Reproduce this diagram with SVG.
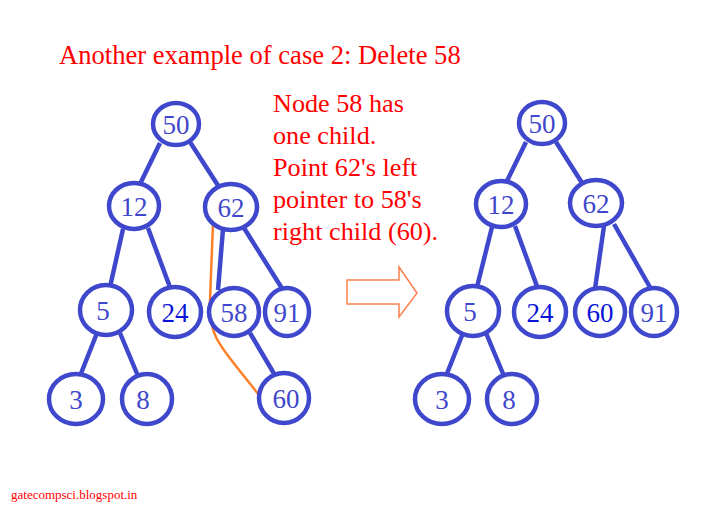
<svg xmlns="http://www.w3.org/2000/svg" width="723" height="521" viewBox="0 0 723 521">
<style>
.n ellipse{fill:#fff;stroke:#3f48cc;stroke-width:4.5}
.n text{font-family:"Liberation Serif",serif;font-size:27px;fill:#3f48cc;text-anchor:middle}
.n text.b{fill:#0a14d8}
.e line{stroke:#3f48cc;stroke-width:4.5}
.t{font-family:"Liberation Serif",serif;fill:#ff0000}
</style>
<rect width="723" height="521" fill="#fff"/>
<text class="t" x="59" y="64" font-size="26.6">Another example of case 2: Delete 58</text>
<g id="note" class="t" font-size="26.2">
<text x="273" y="112">Node 58 has</text>
<text x="273" y="144">one child.</text>
<text x="273" y="176">Point 62's left</text>
<text x="273" y="208">pointer to 58's</text>
<text x="273" y="240">right child (60).</text>
</g>
<text class="t" x="11" y="499" font-size="13">gatecompsci.blogspot.in</text>
<g id="connectors" class="e">
<line x1="160" y1="143" x2="140" y2="184"/>
<line x1="190" y1="142" x2="219" y2="187"/>
<line x1="123" y1="229" x2="110" y2="287"/>
<line x1="148" y1="228" x2="171" y2="290"/>
<line x1="223" y1="229" x2="218" y2="290"/>
<line x1="244" y1="228" x2="283" y2="290"/>
<line x1="97" y1="333" x2="80" y2="376"/>
<line x1="120" y1="333" x2="138" y2="376"/>
<line x1="250" y1="333" x2="276" y2="377"/>
<line x1="526" y1="142" x2="506" y2="183"/>
<line x1="556" y1="142" x2="584" y2="186"/>
<line x1="492" y1="227" x2="477" y2="287"/>
<line x1="515" y1="226" x2="538" y2="289"/>
<line x1="604" y1="226" x2="595" y2="289"/>
<line x1="614" y1="224" x2="651" y2="289"/>
<line x1="463" y1="333" x2="446" y2="376"/>
<line x1="486" y1="333" x2="504" y2="376"/>
<path d="M213,224 L210,300 C209,340 220,345 259,395" fill="none" stroke="#ff7f27" stroke-width="2.5"/>
</g>
<g id="n50" class="n"><ellipse cx="176" cy="124" rx="23" ry="21"/><text x="176" y="134">50</text></g>
<g id="n12" class="n"><ellipse cx="134" cy="206" rx="25" ry="23"/><text x="134" y="216">12</text></g>
<g id="n62" class="n"><ellipse cx="231" cy="207" rx="26" ry="23"/><text x="231" y="217">62</text></g>
<g id="n5" class="n"><ellipse cx="106" cy="310" rx="26" ry="25"/><text x="103" y="320">5</text></g>
<g id="n24" class="n"><ellipse cx="175" cy="312" rx="26" ry="25"/><text class="b" x="175" y="322">24</text></g>
<g id="n58" class="n"><ellipse cx="234" cy="312" rx="25" ry="24"/><text x="234" y="322">58</text></g>
<g id="n91" class="n"><ellipse cx="287" cy="312" rx="22" ry="24"/><text x="287" y="322">91</text></g>
<g id="n3" class="n"><ellipse cx="76" cy="399" rx="27" ry="25"/><text x="76" y="409">3</text></g>
<g id="n8" class="n"><ellipse cx="147" cy="399" rx="25" ry="25"/><text x="143" y="409">8</text></g>
<g id="n60" class="n"><ellipse cx="284" cy="398" rx="25" ry="25"/><text x="286" y="408">60</text></g>
<g id="arrow"><path d="M347,280 H399 V267 L417,293 L399,317 V304 H347 Z" fill="#fff" stroke="#ff7f50" stroke-width="1.5"/></g>
<g id="r50" class="n"><ellipse cx="542" cy="123" rx="23" ry="21"/><text x="542" y="133">50</text></g>
<g id="r12" class="n"><ellipse cx="501" cy="204" rx="25" ry="23"/><text x="501" y="214">12</text></g>
<g id="r62" class="n"><ellipse cx="596" cy="203" rx="26" ry="23"/><text x="596" y="213">62</text></g>
<g id="r5" class="n"><ellipse cx="473" cy="311" rx="26" ry="25"/><text x="470" y="321">5</text></g>
<g id="r24" class="n"><ellipse cx="540" cy="312" rx="26" ry="25"/><text class="b" x="540" y="322">24</text></g>
<g id="r60" class="n"><ellipse cx="600" cy="312" rx="25" ry="24"/><text class="b" x="600" y="322">60</text></g>
<g id="r91" class="n"><ellipse cx="654" cy="312" rx="23" ry="24"/><text x="654" y="322">91</text></g>
<g id="r3" class="n"><ellipse cx="442" cy="399" rx="27" ry="25"/><text x="442" y="409">3</text></g>
<g id="r8" class="n"><ellipse cx="512" cy="399" rx="25" ry="25"/><text x="509" y="409">8</text></g>
</svg>
